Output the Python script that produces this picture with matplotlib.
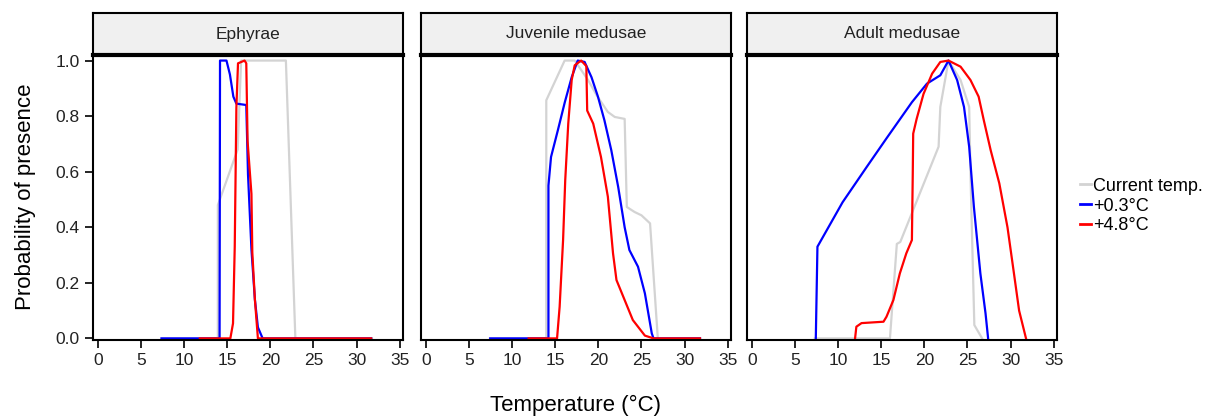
import matplotlib.pyplot as plt
from matplotlib.lines import Line2D

plt.rcParams['font.family'] = ['Liberation Sans', 'DejaVu Sans']

stages = ['Ephyrae', 'Juvenile medusae', 'Adult medusae']
series_names = ['Current temp.', '+0.3°C', '+4.8°C']
series_colors = ['#d3d3d3', 'blue', 'red']

# Ephyrae
eph_cur_x = [7.4, 13.9, 13.9, 16.2, 16.6, 21.8, 22.9, 31.8]
eph_cur_y = [0, 0, 0.48, 0.68, 1.0, 1.0, 0, 0]
eph_03_x = [7.35, 14.1, 14.15, 14.9, 15.3, 15.7, 16.05, 17.2, 17.4, 17.8, 18.2, 18.55, 19.1, 31.7]
eph_03_y = [0, 0, 1.0, 1.0, 0.95, 0.87, 0.845, 0.84, 0.59, 0.32, 0.14, 0.04, 0, 0]
eph_48_x = [11.8, 15.35, 15.66, 15.86, 16.05, 16.24, 17.0, 17.2, 17.35, 17.8, 17.9, 18.2, 18.55, 31.7]
eph_48_y = [0, 0, 0.054, 0.33, 0.83, 0.99, 1.0, 0.99, 0.71, 0.52, 0.31, 0.14, 0, 0]

# Juvenile medusae
juv_cur_x = [7.4, 13.95, 13.95, 16.08, 17.25, 18.8, 19.8, 21.1, 21.9, 23.05, 23.3, 24.2, 25.0, 26.0, 26.9, 31.8]
juv_cur_y = [0, 0, 0.857, 1.0, 1.0, 0.93, 0.875, 0.815, 0.797, 0.79, 0.473, 0.455, 0.443, 0.414, 0, 0]
juv_03_x = [7.44, 14.2, 14.2, 14.5, 15.3, 16.1, 16.9, 17.6, 18.4, 19.2, 19.95, 20.7, 21.5,
            22.3, 23.05, 23.6, 24.6, 25.4, 26.2, 26.4, 31.8]
juv_03_y = [0, 0, 0.55, 0.653, 0.75, 0.85, 0.94, 1.0, 0.995, 0.94, 0.87, 0.785, 0.677,
            0.545, 0.40, 0.318, 0.258, 0.162, 0.018, 0, 0]
juv_48_x = [11.9, 15.2, 15.5, 15.9, 16.15, 16.5, 16.9, 17.25, 18.0, 18.6, 18.7, 19.4, 20.3,
            21.1, 21.7, 22.1, 23.05, 24.0, 25.4, 26.4, 31.8]
juv_48_y = [0, 0, 0.114, 0.354, 0.57, 0.773, 0.93, 0.983, 1.0, 0.98, 0.82, 0.773, 0.653,
            0.51, 0.306, 0.21, 0.138, 0.066, 0.01, 0, 0]

# Adult medusae
adu_cur_x = [7.27, 16.0, 16.8, 17.2, 21.65, 21.85, 22.8, 24.2, 25.2, 25.4, 25.8, 26.7]
adu_cur_y = [0, 0, 0.34, 0.347, 0.69, 0.833, 1.0, 0.93, 0.833, 0.533, 0.048, 0]
adu_03_x = [7.39, 7.58, 10.5, 13.3, 15.6, 18.55, 20.3, 21.85, 22.8, 23.8, 24.6, 25.2, 25.75, 26.5, 27.1, 27.4]
adu_03_y = [0, 0.33, 0.49, 0.617, 0.72, 0.85, 0.917, 0.947, 1.0, 0.93, 0.833, 0.69, 0.473, 0.234, 0.09, 0]
adu_48_x = [11.95, 12.1, 12.7, 15.25, 15.6, 16.4, 17.15, 17.9, 18.55, 18.65, 18.7, 19.1, 19.9,
            20.9, 21.85, 22.8, 24.2, 25.35, 26.3, 26.9, 27.7, 28.7, 29.65, 30.4, 31.0, 31.8]
adu_48_y = [0, 0.042, 0.055, 0.06, 0.078, 0.138, 0.234, 0.306, 0.354, 0.594, 0.737, 0.79, 0.88,
            0.953, 0.995, 1.0, 0.978, 0.93, 0.87, 0.785, 0.677, 0.558, 0.40, 0.234, 0.10, 0]

panels = [
    [(eph_cur_x, eph_cur_y), (eph_03_x, eph_03_y), (eph_48_x, eph_48_y)],
    [(juv_cur_x, juv_cur_y), (juv_03_x, juv_03_y), (juv_48_x, juv_48_y)],
    [(adu_cur_x, adu_cur_y), (adu_03_x, adu_03_y), (adu_48_x, adu_48_y)],
]

W, H = 1220, 417
fig = plt.figure(figsize=(W / 100, H / 100), dpi=100)

lefts = [93, 421, 747]
pw = 310
top, bottom, strip_top = 55, 339.5, 13

for i, (stage, data) in enumerate(zip(stages, panels)):
    ax = fig.add_axes([lefts[i] / W, 1 - bottom / H, pw / W, (bottom - top) / H])
    for (x, y), c in zip(data, series_colors):
        ax.plot(x, y, color=c, lw=1.6)
    ax.set_xlim(-0.6, 35.4)
    ax.set_ylim(-0.004, 1.02)
    ax.set_xticks(range(0, 36, 5))
    ax.set_yticks([0, 0.2, 0.4, 0.6, 0.8, 1.0])
    ax.tick_params(direction='out', length=6, width=1.2, color='black', labelsize=12.5,
                   labelcolor='#222222')
    if i == 0:
        ax.set_yticklabels(['0.0', '0.2', '0.4', '0.6', '0.8', '1.0'])
        ax.set_ylabel('Probability of presence', fontsize=16, labelpad=14)
    else:
        ax.tick_params(axis='y', left=False, labelleft=False)
    for s in ax.spines.values():
        s.set_linewidth(1.5)
        s.set_color('black')

    sax = fig.add_axes([lefts[i] / W, 1 - top / H, pw / W, (top - strip_top) / H])
    sax.set_facecolor('#f0f0f0')
    sax.set_xticks([])
    sax.set_yticks([])
    for s in sax.spines.values():
        s.set_linewidth(1.5)
    sax.spines['bottom'].set_linewidth(3)
    sax.text(0.5, 0.5, stage, ha='center', va='center', fontsize=12.5, color='#222222',
             transform=sax.transAxes)

fig.text(575 / W, 1 - 405 / H, 'Temperature (°C)', ha='center', va='center', fontsize=16)

handles = [Line2D([], [], color=c, lw=2) for c in series_colors]
fig.legend(handles, series_names, loc='center left', bbox_to_anchor=(1071 / W, 1 - 206 / H),
           frameon=False, fontsize=13, handlelength=0.6, handletextpad=0.12,
           labelspacing=0.15, borderpad=0)

fig.savefig('out.png', dpi=100)
